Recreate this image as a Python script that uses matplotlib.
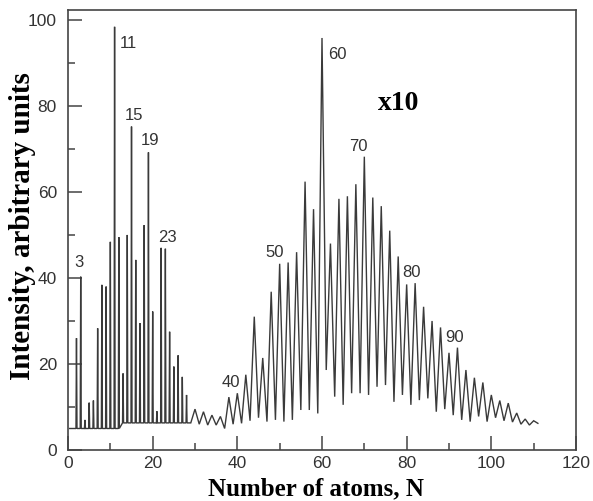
import matplotlib
matplotlib.use("Agg")
import matplotlib.pyplot as plt
from matplotlib.ticker import MultipleLocator

# Small carbon clusters: narrow lines standing on a flat baseline
small_n = [2, 3, 4, 5, 6, 7, 8, 9, 10, 11, 12, 13, 14, 15,
           16, 17, 18, 19, 20, 21, 22, 23, 24, 25, 26, 27, 28]
small_peak = [26.0, 40.3, 7.0, 11.0, 11.5, 28.3, 38.4, 38.0, 48.4, 98.4,
              49.5, 17.8, 50.0, 75.2, 44.2, 29.5, 52.3, 69.2, 32.2, 9.0,
              47.0, 46.8, 27.5, 19.4, 22.0, 17.0, 12.8]
small_base = [5.0, 5.0, 5.0, 5.0, 5.0, 5.0, 5.0, 5.0, 5.0, 5.0,
              5.0, 6.3, 6.3, 6.3, 6.3, 6.3, 6.3, 6.3, 6.3, 6.3,
              6.3, 6.3, 6.3, 6.3, 6.3, 6.3, 6.3]

# Large clusters (scaled x10): even-N peaks and the valleys at odd N
even_n = [30, 32, 34, 36, 38, 40, 42, 44, 46, 48, 50, 52, 54, 56, 58, 60,
          62, 64, 66, 68, 70, 72, 74, 76, 78, 80, 82, 84, 86, 88, 90, 92,
          94, 96, 98, 100, 102, 104, 106, 108, 110]
even_peak = [9.5, 8.9, 8.1, 7.8, 12.3, 13.2, 17.5, 31.0, 21.4, 36.8, 43.3,
             43.6, 46.0, 62.4, 56.0, 95.8, 48.0, 58.4, 59.0, 61.8, 68.2,
             58.7, 56.7, 51.0, 45.0, 38.5, 38.8, 33.3, 30.0, 28.5, 22.6,
             23.8, 18.6, 16.8, 15.7, 12.8, 11.5, 10.9, 8.6, 7.2, 6.8]
odd_n = [29, 31, 33, 35, 37, 39, 41, 43, 45, 47, 49, 51, 53, 55, 57, 59,
         61, 63, 65, 67, 69, 71, 73, 75, 77, 79, 81, 83, 85, 87, 89, 91,
         93, 95, 97, 99, 101, 103, 105, 107, 109, 111]
odd_valley = [6.3, 6.0, 5.8, 5.8, 5.0, 6.0, 6.2, 6.8, 7.5, 6.6, 7.0, 6.6,
              7.0, 9.3, 9.3, 8.5, 18.6, 12.4, 10.5, 13.2, 13.2, 12.8, 14.7,
              15.1, 11.2, 12.8, 10.5, 11.6, 12.0, 8.9, 9.5, 8.1, 7.0, 6.6,
              7.8, 6.6, 7.5, 6.8, 6.5, 6.0, 5.8, 6.2]

# Labelled cluster sizes and where their numbers sit
label_text = ["3", "11", "15", "19", "23", "40", "50", "60", "70", "80", "90"]
label_x = [2.5, 14.2, 15.6, 19.3, 23.6, 38.4, 48.8, 63.6, 68.7, 81.1, 91.4]
label_y = [43.5, 94.4, 77.7, 71.9, 49.3, 15.7, 45.9, 92.0, 70.6, 41.3, 26.2]

x_ticks = [0, 20, 40, 60, 80, 100, 120]
y_ticks = [0, 20, 40, 60, 80, 100]

LINE_HALF_WIDTH = 0.12
TRACE_START = 0.4

# Assemble one continuous trace
xs = [TRACE_START]
ys = [small_base[0]]
for n, h, b in zip(small_n, small_peak, small_base):
    xs += [n - LINE_HALF_WIDTH, n, n + LINE_HALF_WIDTH]
    ys += [b, h, b]
large = sorted(list(zip(odd_n, odd_valley)) + list(zip(even_n, even_peak)))
for n, v in large:
    xs.append(n)
    ys.append(v)

fig = plt.figure(figsize=(5.93, 5.01), dpi=100)
ax = fig.add_axes([0.1147, 0.1018, 0.8566, 0.8782])

ink = "#3a3a3a"
ax.plot(xs, ys, color=ink, lw=1.0, solid_joinstyle="miter")

ax.set_xlim(0, 120)
ax.set_ylim(0, 102.3)
ax.set_xticks(x_ticks)
ax.set_yticks(y_ticks)
ax.xaxis.set_minor_locator(MultipleLocator(10))
ax.yaxis.set_minor_locator(MultipleLocator(10))
ax.tick_params(which="both", direction="in", color="#444444", width=1.1)
ax.tick_params(which="major", length=10)
ax.tick_params(which="minor", length=5)
ax.tick_params(axis="y", which="major", pad=8)
ax.tick_params(axis="x", which="major", pad=4)
for lab in ax.get_xticklabels() + ax.get_yticklabels():
    lab.set_fontfamily("Liberation Sans")
    lab.set_fontsize(12.5)
    lab.set_color("#333333")
for sp in ax.spines.values():
    sp.set_color("#444444")
    sp.set_linewidth(1.2)

for t, x, y in zip(label_text, label_x, label_y):
    ax.text(x, y, t, ha="center", va="center", fontsize=12,
            family="Liberation Sans", color="#333333")

ax.text(78.0, 80.5, "x10", ha="center", va="center", fontsize=20,
        family="Liberation Serif", fontweight="bold", color="black")

fig.text(0.533, 0.025, "Number of atoms, N", ha="center", va="center",
         fontsize=18, family="Liberation Serif", fontweight="bold")
fig.text(0.038, 0.549, "Intensity, arbitrary units", ha="center", va="center",
         rotation=90, fontsize=21, family="Liberation Serif", fontweight="bold")

fig.savefig("out.png", dpi=100, facecolor="white")
